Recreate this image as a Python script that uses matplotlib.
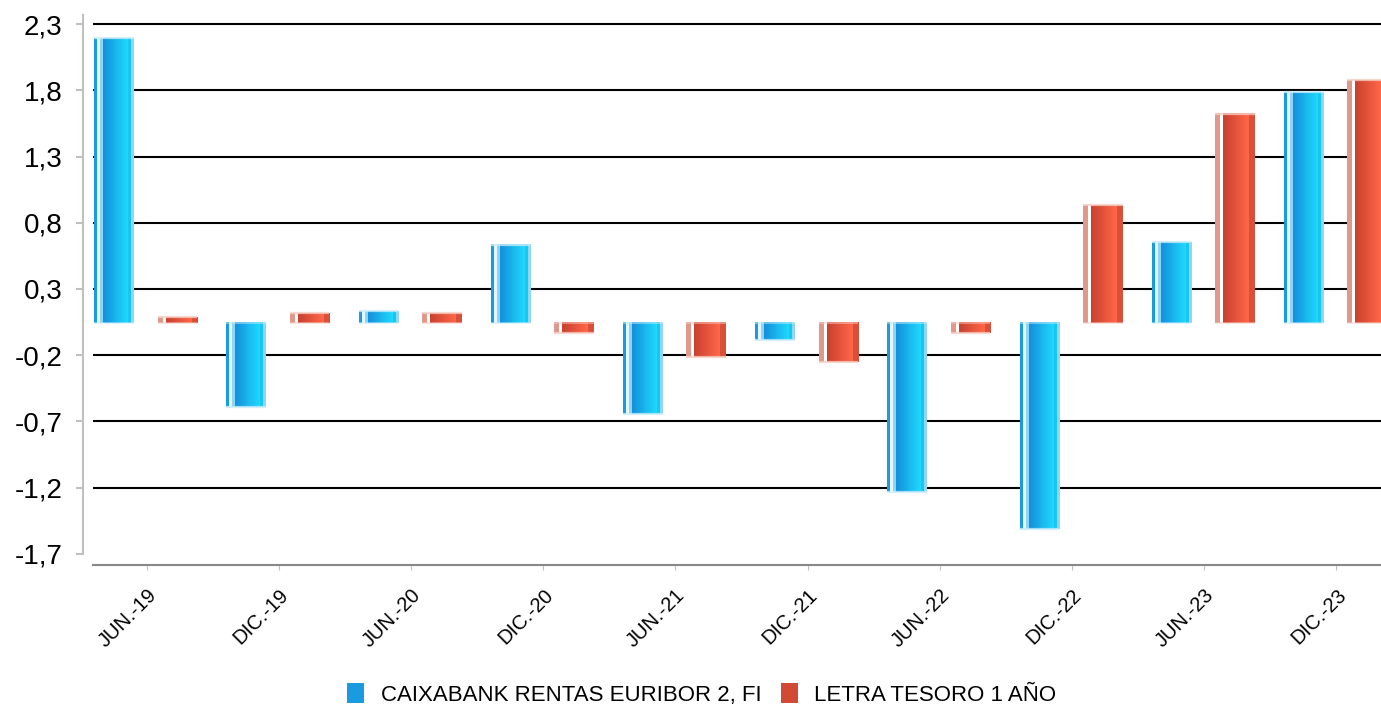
import numpy as np
import matplotlib
matplotlib.use("Agg")
import matplotlib.pyplot as plt
import matplotlib.colors as mcolors

plt.rcParams['font.family'] = ['Liberation Sans', 'DejaVu Sans']

# ---- data ----
categories = ["JUN.-19", "DIC.-19", "JUN.-20", "DIC.-20", "JUN.-21",
              "DIC.-21", "JUN.-22", "DIC.-22", "JUN.-23", "DIC.-23"]
caixabank = [2.15, -0.64, 0.09, 0.59, -0.69, -0.13, -1.28, -1.56, 0.61, 1.74]
letra = [0.04, 0.07, 0.07, -0.08, -0.26, -0.30, -0.08, 0.89, 1.58, 1.83]
series_names = ["CAIXABANK RENTAS EURIBOR 2, FI", "LETRA TESORO 1 AÑO"]
ytick_labels = ["-1,7", "-1,2", "-0,7", "-0,2", "0,3", "0,8", "1,3", "1,8", "2,3"]

# ---- style ----
W, H = 1381, 706
fig = plt.figure(figsize=(W / 100, H / 100), dpi=100)
ax = fig.add_axes([93.3 / W, (H - 554.3) / H, (W - 93.3) / W, (554.3 - 15) / H])

blue_base = '#1a9be0'
red_base = '#d24a35'

def make_profile(segments):
    cols = []
    for n, c0, c1 in segments:
        a = np.array(mcolors.to_rgb(c0))
        b = np.array(mcolors.to_rgb(c1))
        for i in range(n):
            t = i / (n - 1) if n > 1 else 0.0
            cols.append(a + (b - a) * t)
    return np.array(cols)[None, :, :]

blue_prof = make_profile([(3, '#1a9ae0', '#1a9ae0'), (3, '#e6f6fd', '#e6f6fd'),
                          (3, '#8ed4f3', '#8ed4f3'), (26, '#1490dc', '#1ed8fd'),
                          (3, '#17c6f3', '#17c6f3'), (3, '#8ed6f2', '#8ed6f2')])
red_prof = make_profile([(5, '#e0988c', '#e0988c'), (3, '#ffffff', '#ffffff'),
                         (26, '#c9412f', '#ff6648'), (6, '#d84f3a', '#d84f3a')])

for s in ('top', 'right'):
    ax.spines[s].set_visible(False)
ax.spines['left'].set_position(('outward', 7.2))
ax.spines['left'].set_color('#c0c0c0')
ax.spines['left'].set_linewidth(1.5)
ax.spines['bottom'].set_position(('outward', 7.7))
ax.spines['bottom'].set_color('#888888')
ax.spines['bottom'].set_linewidth(1.5)

x = np.arange(len(categories))
bw = 0.30
b1 = ax.bar(x - 0.247, caixabank, bw, color=blue_base, zorder=2, label=series_names[0])
b2 = ax.bar(x + 0.232, letra, bw, color=red_base, zorder=2, label=series_names[1])

for cont, prof, cap in ((b1, blue_prof, '#c8ecfb'), (b2, red_prof, '#f7cdc3')):
    for r in cont:
        x0, w, h = r.get_x(), r.get_width(), r.get_height()
        ax.imshow(prof, extent=[x0, x0 + w, 0, h], aspect='auto',
                  interpolation='nearest', zorder=3)
        ax.plot([x0, x0 + w], [h, h], color=cap, lw=1.6, alpha=0.8, zorder=4,
                solid_capstyle='butt')
        ax.plot([x0, x0 + w], [0, 0], color=cap, lw=1.2, alpha=0.6, zorder=4,
                solid_capstyle='butt')

# y ticks (gridlines sit slightly off the rounded labels, as in the source)
yt = -1.745 + 0.5 * np.arange(len(ytick_labels))
ax.set_yticks(yt)
ax.set_yticklabels(ytick_labels)
for v in yt[1:]:
    ax.axhline(v, color='black', lw=1.5, zorder=1)

ax.set_xlim(-0.404, 9.337)
ax.set_ylim(-1.749, 2.324)

ax.tick_params(axis='y', length=5, width=1.5, color='#c0c0c0', labelsize=20, pad=10)
ax.tick_params(axis='x', length=3.6, width=0.8, color='#c0c0c0', pad=11)

ax.set_xticks(x)
ax.set_xticklabels(categories, rotation=45, ha='right', va='top',
                   rotation_mode='anchor', fontsize=14.5)

ax.legend(handles=[b1, b2], loc='center', bbox_to_anchor=(0.5082, 0.0163),
          bbox_transform=fig.transFigure, ncol=2, frameon=False, fontsize=16,
          handlelength=0.77, handleheight=0.95, handletextpad=0.74,
          columnspacing=0.86, borderpad=0, borderaxespad=0)

fig.savefig('out.png', dpi=100)
